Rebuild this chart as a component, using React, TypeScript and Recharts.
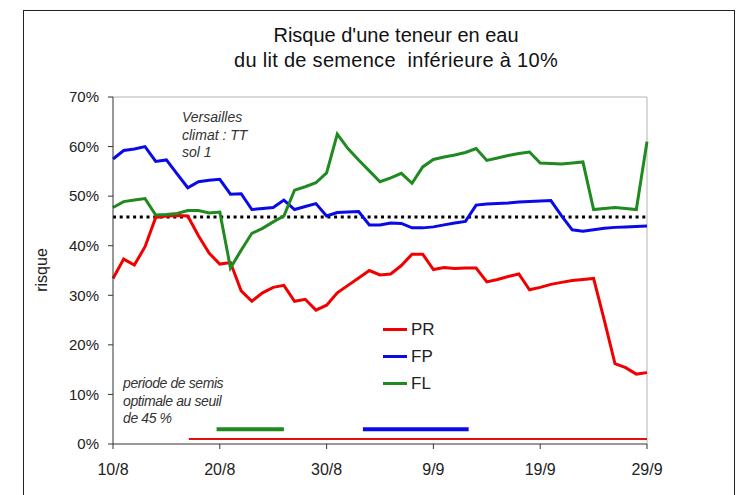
import React from "react";
import { LineChart, Line, XAxis, YAxis, ReferenceLine, Legend } from "recharts";

// jours depuis le 10/8 (0 = 10/8, 50 = 29/9)
const xTicks = [0, 10, 20, 30, 40, 50];
const xTickLabels = ["10/8", "20/8", "30/8", "9/9", "19/9", "29/9"];
const yTicks = [0, 10, 20, 30, 40, 50, 60, 70];
const legendOrder = ["PR", "FP", "FL"];

const pr = [
  33.4, 37.3, 36.1, 39.8, 45.7, 46.0, 46.1, 46.0, 42.0, 38.5,
  36.3, 36.6, 30.9, 28.8, 30.5, 31.6, 32.0, 28.8, 29.2, 27.0,
  28.0, 30.5, 32.0, 33.5, 35.0, 34.1, 34.3, 36.0, 38.3, 38.3,
  35.2, 35.6, 35.4, 35.5, 35.5, 32.7, 33.2, 33.8, 34.3, 31.1,
  31.6, 32.2, 32.6, 33.0, 33.2, 33.4, 25.0, 16.2, 15.4, 14.1,
  14.4,
];

const fp = [
  57.5, 59.2, 59.5, 60.0, 57.0, 57.3, 54.5, 51.7, 52.9, 53.2,
  53.4, 50.4, 50.5, 47.3, 47.5, 47.7, 49.2, 47.3, 47.9, 48.5,
  46.0, 46.7, 46.8, 46.9, 44.2, 44.2, 44.6, 44.5, 43.6, 43.6,
  43.8, 44.2, 44.6, 44.9, 48.2, 48.4, 48.5, 48.6, 48.8, 48.9,
  49.0, 49.1, 46.0, 43.2, 42.9, 43.2, 43.5, 43.7, 43.8, 43.9,
  44.0,
];

const fl = [
  47.7, 48.9, 49.2, 49.5, 46.2, 46.3, 46.5, 47.1, 47.1, 46.6,
  46.8, 35.5, 39.1, 42.5, 43.5, 44.8, 46.0, 51.2, 51.9, 52.7,
  54.7, 62.5, 59.6, 57.3, 55.1, 52.9, 53.7, 54.6, 52.6, 55.9,
  57.4, 57.9, 58.3, 58.8, 59.6, 57.2, 57.7, 58.2, 58.6, 58.9,
  56.7, 56.6, 56.5, 56.7, 56.9, 47.3, 47.5, 47.7, 47.5, 47.3,
  61.0,
];

const seuil = 45.8;

// periodes de semis optimales (debut, fin, niveau)
const periodePR = [7.1, 50, 1];
const periodeFL = [9.7, 16, 3];
const periodeFP = [23.4, 33.3, 3];

const data = pr.map((v, i) => ({ day: i, PR: v, FP: fp[i], FL: fl[i] }));

const font = "'Liberation Sans', Arial, sans-serif";
const RED = "#f20000";
const BLUE = "#0a0ae6";
const GREEN = "#1f8a1f";

function renderLegend(props: any) {
  const items = [...(props.payload || [])].sort(
    (a: any, b: any) => legendOrder.indexOf(a.value) - legendOrder.indexOf(b.value)
  );
  return (
    <div style={{ fontFamily: font }}>
      {items.map((it: any) => (
        <div key={it.value} style={{ display: "flex", alignItems: "center", height: 27 }}>
          <div style={{ width: 24, height: 3, background: it.color, marginRight: 4 }} />
          <span style={{ fontSize: 17, color: "#222" }}>{it.value}</span>
        </div>
      ))}
    </div>
  );
}

export default function App() {
  return (
    <div style={{ position: "absolute", left: 0, top: 0, width: 740, height: 495, background: "#fff", overflow: "hidden" }}>
      <div style={{ position: "absolute", left: 23, top: 10, width: 710, height: 520, border: "1.5px solid #222" }} />
      <div style={{ position: "absolute", left: 0, width: 792, top: 23, textAlign: "center", fontFamily: font, fontSize: 20, lineHeight: "25px", color: "#111" }}>
        Risque d'une teneur en eau
        <br />
        <span style={{ letterSpacing: 0.3 }}>du lit de semence&nbsp; inférieure à 10%</span>
      </div>
      <div style={{ position: "absolute", left: 42, top: 270, fontFamily: font, fontSize: 16, color: "#222", transform: "translate(-50%, -50%) rotate(-90deg)" }}>
        risque
      </div>
      <div style={{ position: "absolute", left: 182, top: 109, fontFamily: font, fontStyle: "italic", fontSize: 14, lineHeight: "17.5px", color: "#333" }}>
        Versailles
        <br />
        climat : TT
        <br />
        sol 1
      </div>
      <div style={{ position: "absolute", left: 123, top: 375, fontFamily: font, fontStyle: "italic", fontSize: 14, lineHeight: "17.5px", color: "#333", letterSpacing: -0.4 }}>
        periode de semis
        <br />
        optimale au seuil
        <br />
        de 45 %
      </div>
      <div style={{ position: "absolute", left: 0, top: 0 }}>
        <LineChart width={740} height={495} data={data} margin={{ top: 97, right: 93, bottom: 21, left: 53 }}>
          <XAxis
            dataKey="day"
            type="number"
            domain={[0, 50]}
            ticks={xTicks}
            tickFormatter={(v: number) => xTickLabels[xTicks.indexOf(v)]}
            stroke="#333"
            tickSize={5}
            tickMargin={15}
            height={30}
            tick={{ fill: "#222", fontSize: 16, fontFamily: font }}
          />
          <YAxis
            type="number"
            domain={[0, 70]}
            ticks={yTicks}
            tickFormatter={(v: number) => `${v}%`}
            stroke="#333"
            tickSize={5}
            tickMargin={9}
            width={60}
            tick={{ fill: "#222", fontSize: 15, fontFamily: font }}
          />
          <ReferenceLine y={70} stroke="#b4b4b4" />
          <ReferenceLine x={50} stroke="#b4b4b4" />
          <ReferenceLine y={seuil} stroke="#000" strokeWidth={3} strokeDasharray="3 3.7" />
          <ReferenceLine
            segment={[{ x: periodePR[0], y: periodePR[2] }, { x: periodePR[1], y: periodePR[2] }]}
            stroke="#e01010"
            strokeWidth={2}
          />
          <ReferenceLine
            segment={[{ x: periodeFL[0], y: periodeFL[2] }, { x: periodeFL[1], y: periodeFL[2] }]}
            stroke={GREEN}
            strokeWidth={4}
          />
          <ReferenceLine
            segment={[{ x: periodeFP[0], y: periodeFP[2] }, { x: periodeFP[1], y: periodeFP[2] }]}
            stroke={BLUE}
            strokeWidth={4}
          />
          <Line type="linear" dataKey="PR" stroke={RED} strokeWidth={3} dot={false} isAnimationActive={false} />
          <Line type="linear" dataKey="FP" stroke={BLUE} strokeWidth={3} dot={false} isAnimationActive={false} />
          <Line type="linear" dataKey="FL" stroke={GREEN} strokeWidth={3} dot={false} isAnimationActive={false} />
          <Legend
            layout="vertical"
            align="center"
            verticalAlign="middle"
            content={renderLegend}
            wrapperStyle={{ left: 383, top: 316, width: 60 }}
          />
        </LineChart>
      </div>
    </div>
  );
}
